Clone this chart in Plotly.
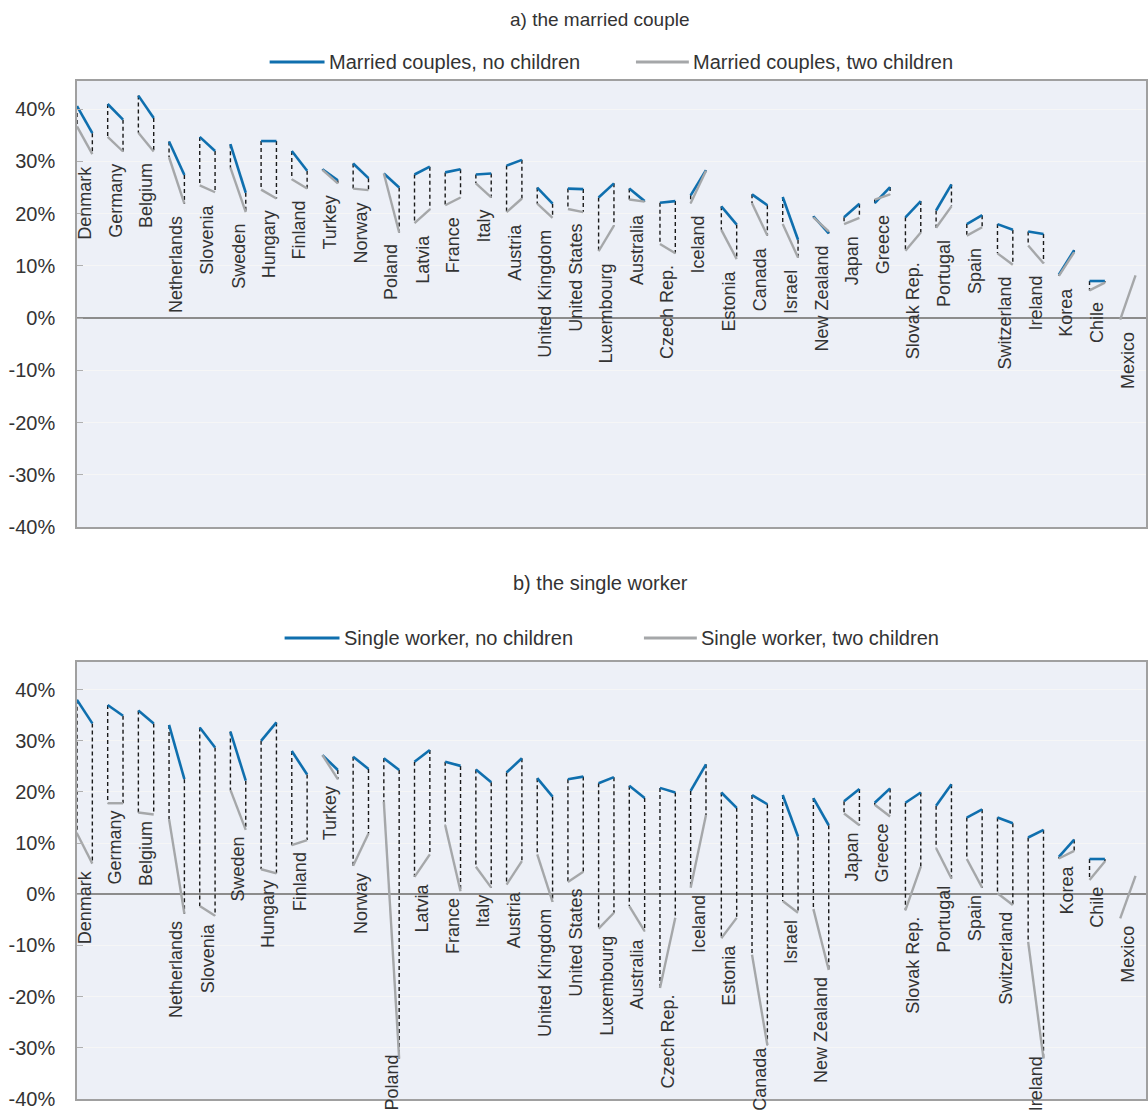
import plotly.graph_objects as go

# Countries in display order (sorted by the married-couple no-children value)
countries = ["Denmark", "Germany", "Belgium", "Netherlands", "Slovenia", "Sweden",
             "Hungary", "Finland", "Turkey", "Norway", "Poland", "Latvia", "France",
             "Italy", "Austria", "United Kingdom", "United States", "Luxembourg",
             "Australia", "Czech Rep.", "Iceland", "Estonia", "Canada", "Israel",
             "New Zealand", "Japan", "Greece", "Slovak Rep.", "Portugal", "Spain",
             "Switzerland", "Ireland", "Korea", "Chile", "Mexico"]

# a) married couple: tax wedge at the first and the second observation (%)
couple_none_first = [40.6, 41.0, 42.6, 33.8, 34.7, 33.3, 33.9, 32.0, 28.5, 29.6, 27.7, 27.5, 27.9,
                     27.5, 29.2, 25.0, 24.8, 23.1, 24.8, 22.1, 23.5, 21.4, 23.7, 23.2, 19.5, 19.3,
                     22.0, 19.3, 20.6, 18.0, 18.0, 16.6, 8.3, 7.1, None]
couple_none_second = [35.4, 38.0, 38.3, 27.4, 32.0, 24.0, 33.9, 28.2, 26.4, 26.8, 25.0, 29.0, 28.5,
                      27.7, 30.3, 21.9, 24.7, 25.8, 22.4, 22.4, 28.3, 17.9, 21.6, 15.0, 16.2, 21.9,
                      25.1, 22.4, 25.6, 19.7, 16.9, 16.1, 13.0, 7.1, None]
couple_two_first = [36.7, 34.7, 35.5, 30.8, 25.4, 28.8, 24.6, 26.6, 28.4, 24.8, 27.7, 18.2, 21.6,
                    25.8, 20.3, 21.9, 20.9, 12.8, 22.7, 14.2, 22.0, 16.9, 22.0, 18.0, 19.3, 18.0,
                    22.7, 12.9, 17.3, 15.8, 12.4, 13.9, 8.1, 5.3, -0.3]
couple_two_second = [31.4, 31.9, 31.9, 21.9, 24.1, 20.3, 22.9, 24.8, 25.8, 24.5, 16.4, 20.8, 23.1,
                     23.1, 22.9, 19.2, 20.3, 17.7, 22.3, 12.4, 28.2, 11.3, 15.8, 11.6, 16.6, 19.2,
                     23.7, 16.4, 21.4, 17.4, 10.2, 10.5, 12.6, 6.8, 8.2]

# b) single worker
single_none_first = [38.0, 37.0, 35.9, 33.1, 32.6, 31.8, 30.0, 28.0, 27.2, 26.9, 26.6, 25.9, 25.9,
                     24.4, 23.8, 22.7, 22.5, 21.7, 21.2, 20.8, 20.2, 19.9, 19.4, 19.4, 18.8, 18.2,
                     17.9, 17.9, 17.3, 15.0, 15.0, 11.1, 7.3, 6.9, None]
single_none_second = [33.4, 34.9, 33.4, 22.5, 28.7, 22.2, 33.6, 23.4, 24.3, 24.5, 24.3, 28.2, 25.1,
                      21.9, 26.6, 19.1, 23.0, 22.9, 18.8, 19.9, 25.4, 16.9, 17.6, 11.3, 13.5, 20.6,
                      20.7, 19.9, 21.5, 16.6, 13.9, 12.6, 10.7, 6.9, None]
single_two_first = [11.9, 17.8, 16.0, 14.7, -2.3, 20.4, 4.9, 9.6, 27.2, 5.6, 18.1, 3.4, 13.5,
                    5.4, 1.9, 7.8, 2.4, -6.7, -2.3, -18.3, 1.3, -8.6, -11.8, -1.3, -2.9, 15.8,
                    17.5, -3.1, 9.0, 6.9, 0.2, -9.3, 7.0, 2.8, -4.7]
single_two_second = [6.0, 17.8, 15.6, -3.8, -4.2, 12.6, 4.1, 10.6, 22.5, 11.9, -32.1, 7.8, 0.6,
                     1.3, 6.5, -1.5, 4.4, -3.6, -7.2, -4.6, 15.5, -4.6, -29.5, -3.6, -14.8, 13.5,
                     15.2, 5.4, 3.1, 1.3, -2.1, -32.1, 8.5, 6.4, 3.6]

y_ticks = [-40, -30, -20, -10, 0, 10, 20, 30, 40]
y_tick_text = [f"{v}%" for v in y_ticks]

BLUE = "#0F6FAE"
GREY = "#A5A7A9"
TEXT = "#333333"
FONT = "Liberation Sans"

W, H = 1148, 1113
FIG_H = 1124
ML = 77
STEP = 0.5  # horizontal span of each country's segment
LOW_LABEL_LIMIT = -25  # labels under points below this sit on the bottom edge


def px_x(px):
    return (px - ML) / (W - ML)


def px_y(py):
    return 1 - py / H


fig = go.Figure()


def add_panel(none_a, none_b, two_a, two_b, xa, ya):
    n = len(countries)
    dx, dy, bx, by, gx, gy = [], [], [], [], [], []
    for i in range(n):
        x0, x1 = i, i + STEP
        if none_a[i] is not None:
            dx += [x0, x0, None, x1, x1, None]
            dy += [none_a[i], two_a[i], None, none_b[i], two_b[i], None]
            bx += [x0, x1, None]
            by += [none_a[i], none_b[i], None]
        gx += [x0, x1, None]
        gy += [two_a[i], two_b[i], None]
    fig.add_trace(go.Scatter(x=dx, y=dy, mode="lines", xaxis=xa, yaxis=ya,
                             line=dict(color="#1A1A1A", width=1.4, dash="4px,3px"),
                             hoverinfo="skip", showlegend=False, cliponaxis=False))
    fig.add_trace(go.Scatter(x=bx, y=by, mode="lines", xaxis=xa, yaxis=ya,
                             line=dict(color=BLUE, width=2.6), showlegend=False,
                             cliponaxis=False))
    fig.add_trace(go.Scatter(x=gx, y=gy, mode="lines", xaxis=xa, yaxis=ya,
                             line=dict(color=GREY, width=2.4), showlegend=False,
                             cliponaxis=False))


add_panel(couple_none_first, couple_none_second, couple_two_first, couple_two_second, "x", "y")
add_panel(single_none_first, single_none_second, single_two_first, single_two_second, "x2", "y2")

# Country labels, hanging below the lowest point of each country
annotations = []
for xa, ya, vals, shift in [
    ("x", "y", (couple_none_first, couple_none_second, couple_two_first, couple_two_second), -10),
    ("x2", "y2", (single_none_first, single_none_second, single_two_first, single_two_second), -5),
]:
    for i, name in enumerate(countries):
        lows = [v[i] for v in vals if v[i] is not None]
        label = dict(x=i + STEP / 2, xref=xa, text=name, showarrow=False, textangle=-90,
                     xanchor="center", font=dict(family=FONT, size=18, color=TEXT))
        if min(lows) < LOW_LABEL_LIMIT:
            label.update(y=px_y(1112), yref="paper", yanchor="bottom", borderpad=0)
        else:
            label.update(y=min(lows), yref=ya, yanchor="top", yshift=shift)
        annotations.append(label)

# Panel titles
for text, py, size in [("a) the married couple", 20, 19), ("b) the single worker", 583, 20)]:
    annotations.append(dict(x=px_x(601), y=px_y(py), xref="paper", yref="paper", text=text,
                            showarrow=False, xanchor="center", yanchor="middle",
                            font=dict(family=FONT, size=size, color=TEXT)))

# Legend entries drawn as line samples with labels
shapes = []
legend_items = [
    (270, 325, 62, BLUE, "Married couples, no children"),
    (637, 690, 62, GREY, "Married couples, two children"),
    (285, 340, 638, BLUE, "Single worker, no children"),
    (645, 698, 638, GREY, "Single worker, two children"),
]
for x0, x1, py, col, label in legend_items:
    shapes.append(dict(type="line", xref="paper", yref="paper", x0=px_x(x0), x1=px_x(x1),
                       y0=px_y(py), y1=px_y(py), line=dict(color=col, width=3)))
    annotations.append(dict(x=px_x(x1 + 2), y=px_y(py), xref="paper", yref="paper",
                            text=label, showarrow=False, xanchor="left", yanchor="middle",
                            font=dict(family=FONT, size=20, color=TEXT)))

x_range = [0, (W - ML) / 30.74]
axis_x = dict(range=x_range, showticklabels=False, showgrid=False, zeroline=False,
              showline=True, mirror=True, linecolor="#A0A0A0", linewidth=1.5, ticks="")
axis_y = dict(range=[-40, 45.4], tickvals=y_ticks, ticktext=y_tick_text, showgrid=True,
              gridcolor="#F6F6F6", gridwidth=1, zeroline=True, zerolinecolor="#8C8C8C",
              zerolinewidth=1.5, showline=True, mirror=True, linecolor="#A0A0A0",
              linewidth=1.5, ticks="inside", ticklen=6, tickcolor="#B0B0B0",
              tickfont=dict(family=FONT, size=20, color=TEXT), ticklabelstandoff=16)

fig.update_layout(
    width=W, height=FIG_H, margin=dict(l=ML, r=0, t=0, b=0),
    paper_bgcolor="white", plot_bgcolor="#EDF0F7",
    xaxis=dict(axis_x, anchor="y"),
    yaxis=dict(axis_y, domain=[px_y(527), px_y(81)], anchor="x"),
    xaxis2=dict(axis_x, anchor="y2"),
    yaxis2=dict(axis_y, domain=[px_y(1099), px_y(662)], anchor="x2"),
    annotations=annotations, shapes=shapes, showlegend=False,
)

fig.write_html("out.html")
